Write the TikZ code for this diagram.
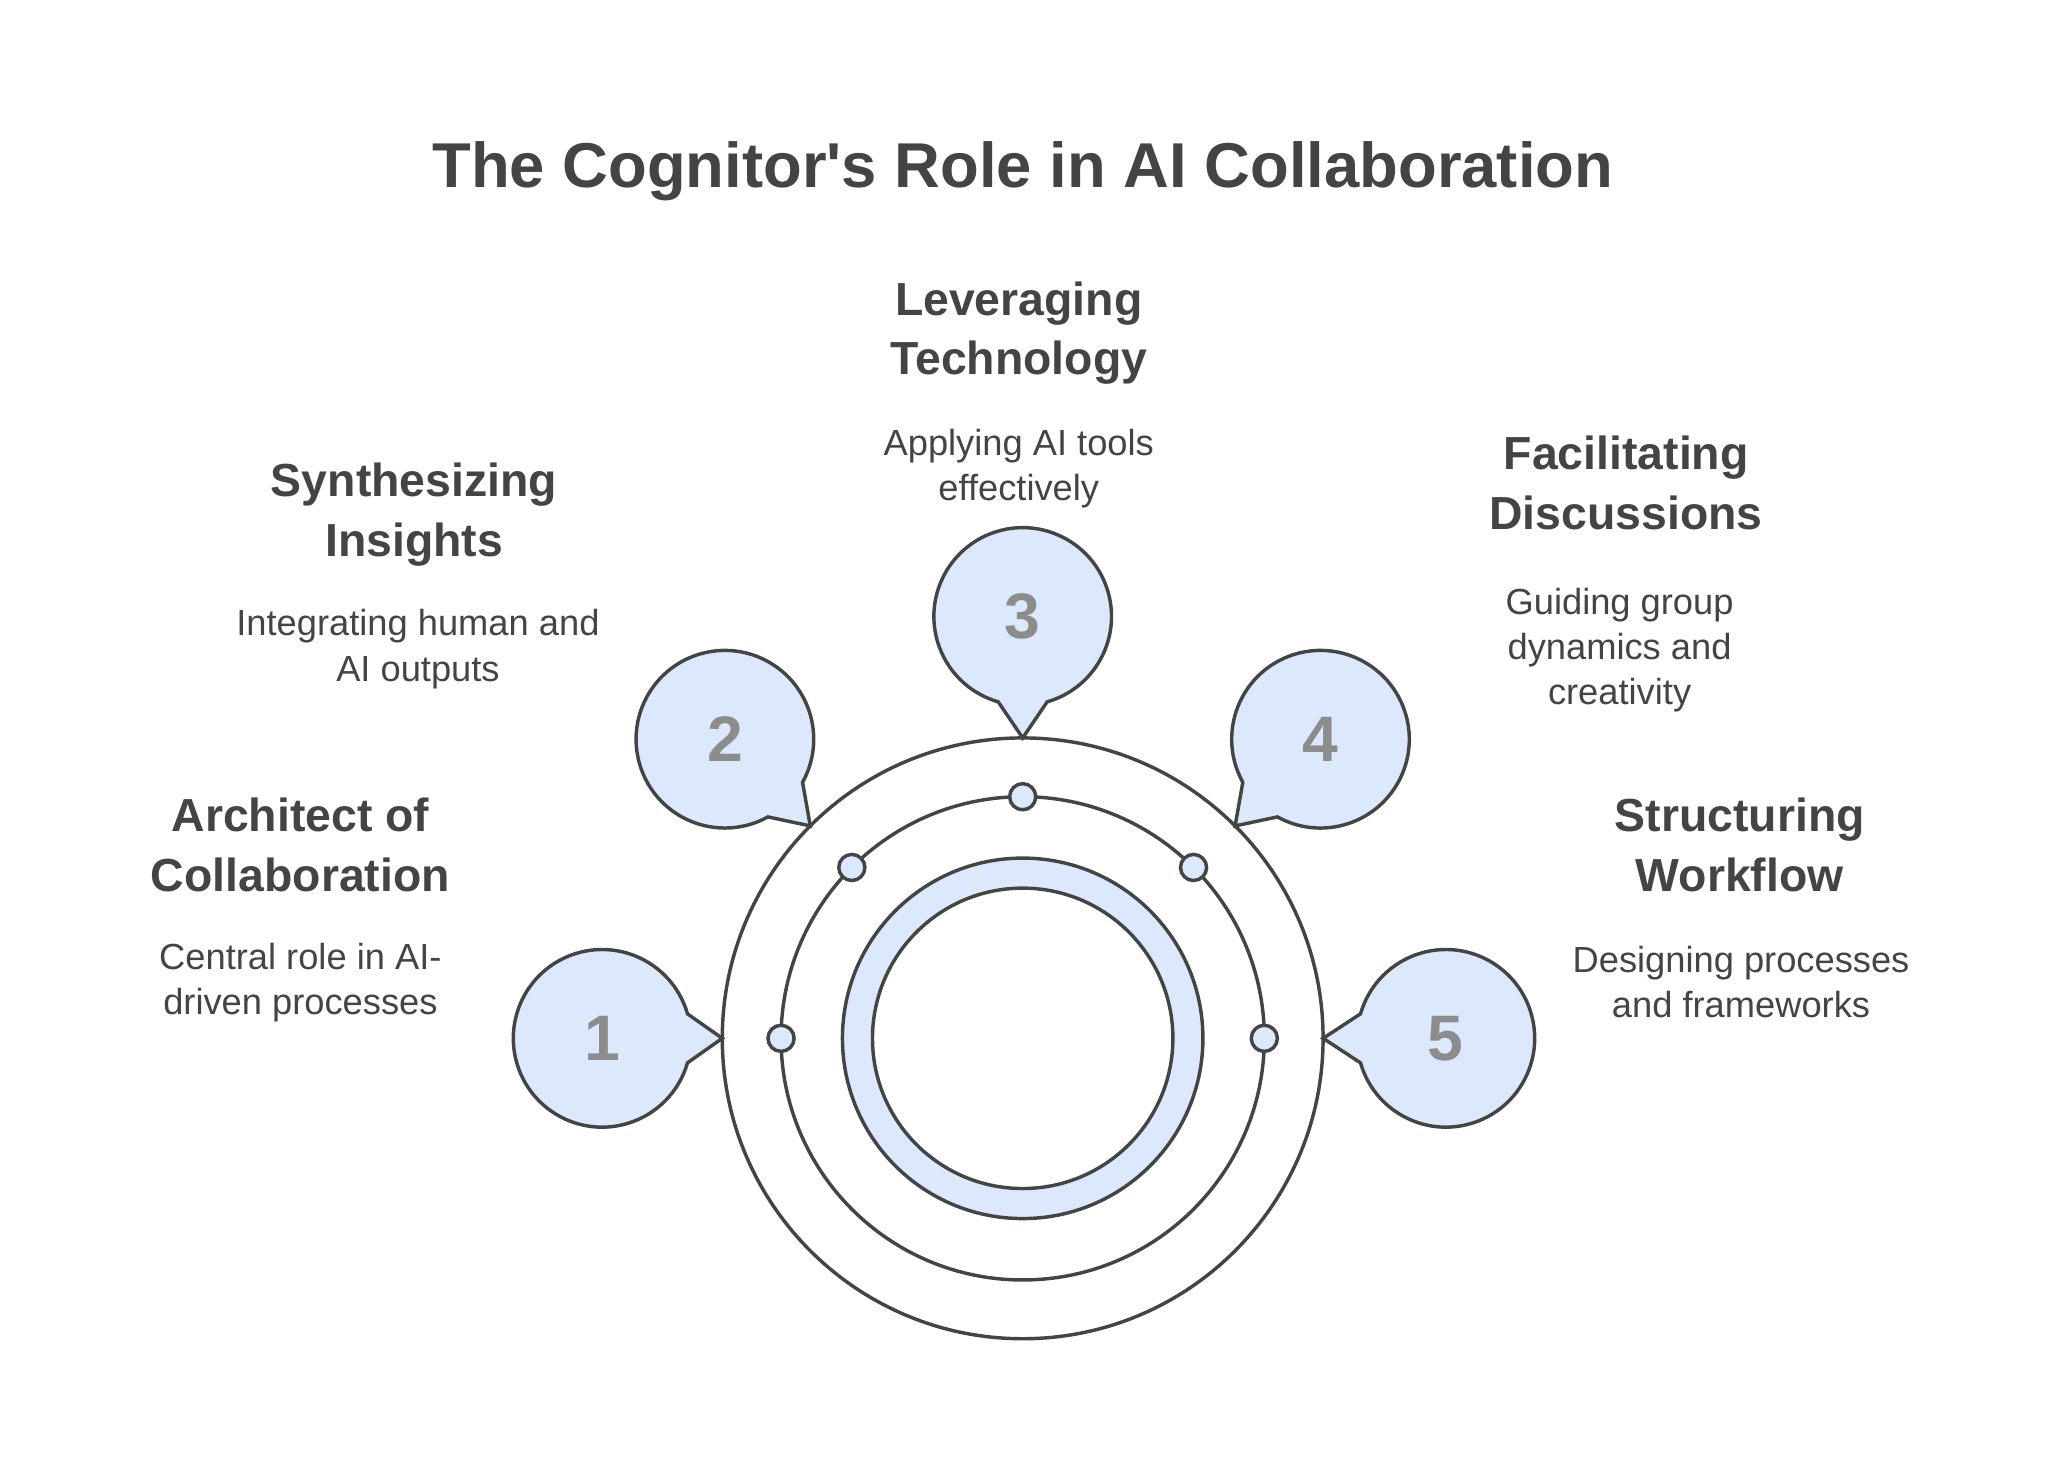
\documentclass[tikz,border=0pt]{standalone}
\usepackage{fontspec}
\setmainfont{Liberation Sans}
\usetikzlibrary{calc}
\definecolor{ink}{HTML}{444444}
\definecolor{bubble}{HTML}{DCE8FC}
\definecolor{numgray}{HTML}{8C8C8C}
\tikzset{
    ring/.style={draw=ink, line width=0.75pt},
    head/.style={font=\fontsize{10.1}{13}\selectfont\bfseries, text=ink, align=center},
    desc/.style={font=\fontsize{7.9}{9.8}\selectfont, text=ink, align=center},
    num/.style={font=\fontsize{14}{16}\selectfont\bfseries, text=numgray},
}
\begin{document}
\begin{tikzpicture}[x=0.01cm,y=0.01cm]
    \useasboundingbox (0,0) rectangle (1568,1119);
    \coordinate (Center) at (783,324);
    \node[font=\fontsize{13.8}{16}\selectfont\bfseries, text=ink] (title) at (783,988) {The Cognitor\textquotesingle s Role in AI Collaboration};
    % rings
    \draw[ring] (Center) circle[radius=230];
    \draw[ring] (Center) circle[radius=185];
    \draw[ring, fill=bubble, even odd rule] (Center) circle[radius=138] circle[radius=115];
    \foreach \a in {180,135,90,45,0}
        \draw[ring, fill=bubble] (Center) ++(\a:185) circle[radius=10];
    % bubbles: centre, pointer angle, tip angle on outer ring, number
    \foreach \x/\y/\t/\p/\n in {461/324/0/180/1, 555/553/-45/135/2, 783/647/-90/90/3, 1011/553/225/45/4, 1107/324/180/0/5}{
        \coordinate (tip\n) at ($(Center)+(\p:230)$);
        \draw[ring, fill=bubble] (\x,\y) ++(\t+16:68) arc[start angle=\t+16, end angle=\t+344, radius=68] -- (tip\n) -- cycle;
        \node[num] (n\n) at (\x,\y) {\n};
    }
    % labels
    \node[head] (h1) at (230,472) {Architect of\\Collaboration};
    \node[desc] (d1) at (230,367) {Central role in AI-\\driven processes};
    \node[head] (h2) at (317,725) {Synthesizing\\Insights};
    \node[desc] (d2) at (320,622) {Integrating human and\\AI outputs};
    \node[head] (h3) at (780,864) {Leveraging\\Technology};
    \node[desc] (d3) at (780,760) {Applying AI tools\\effectively};
    \node[head] (h4) at (1245,749) {Facilitating\\Discussions};
    \node[desc] (d4) at (1240,621) {Guiding group\\dynamics and\\creativity};
    \node[head] (h5) at (1332,472) {Structuring\\Workflow};
    \node[desc] (d5) at (1333,367) {Designing processes\\and frameworks};
\end{tikzpicture}
\end{document}
